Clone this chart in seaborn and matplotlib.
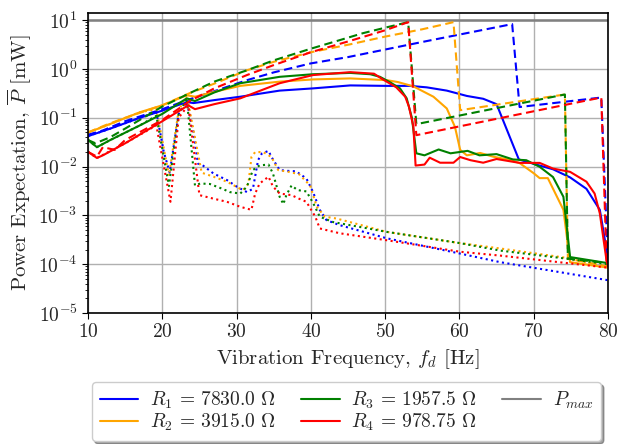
import numpy as np
import pandas as pd
import matplotlib
matplotlib.use("Agg")
import matplotlib.pyplot as plt
from matplotlib.lines import Line2D
import seaborn as sns

# Load resistances and their legend labels
resistors = ["R1", "R2", "R3", "R4"]
labels = [r"$R_1\,=\,7830.0\ \Omega$", r"$R_2\,=\,3915.0\ \Omega$",
          r"$R_3\,=\,1957.5\ \Omega$", r"$R_4\,=\,978.75\ \Omega$"]
colors = ["blue", "orange", "green", "red"]
p_max = 10.0

# Mean power expectation (solid)
f_mean_r1 = [10, 13, 17, 20, 23.3, 24.2, 27, 30.5, 35.8, 40.3, 45.3, 50.2, 53.3, 55.6,
             58.3, 61, 63.2, 65, 68, 70.8, 72.6, 74.9, 77.1, 78.9, 79.8, 80]
p_mean_r1 = [0.042, 0.06, 0.1, 0.14, 0.21, 0.2, 0.23, 0.27, 0.36, 0.40, 0.46, 0.45, 0.45, 0.42,
             0.36, 0.28, 0.245, 0.19, 0.014, 0.0105, 0.0088, 0.006, 0.0035, 0.0013, 2e-4, 1e-4]
f_mean_r2 = [10, 12, 17, 20, 23.3, 24.4, 27, 30.5, 35.8, 40.3, 45.3, 50.2, 51.7, 53.8, 56.5,
             58.3, 59.4, 60.1, 61, 62.8, 64.5, 66.8, 68.1, 70, 70.8, 71.9, 74, 74.9, 80]
p_mean_r2 = [0.05, 0.065, 0.13, 0.18, 0.29, 0.27, 0.34, 0.45, 0.55, 0.61, 0.64, 0.59, 0.54, 0.44, 0.27,
             0.155, 0.065, 0.022, 0.017, 0.019, 0.016, 0.0137, 0.0118, 0.0073, 0.0058, 0.0058, 0.0013,
             1.1e-4, 8.5e-5]
f_mean_r3 = [10, 11.2, 13, 17, 20, 23.3, 24.4, 27, 30.5, 35.8, 40.3, 45.3, 48, 49.3, 50.6, 52,
             52.9, 53.6, 54.2, 55.3, 57.2, 58.8, 61.1, 62.7, 65, 67.2, 69, 70.8, 72.6, 74, 74.9, 80]
p_mean_r3 = [0.035, 0.025, 0.035, 0.07, 0.12, 0.25, 0.22, 0.33, 0.51, 0.69, 0.78, 0.83, 0.78, 0.69,
             0.54, 0.40, 0.25, 0.10, 0.0187, 0.017, 0.0224, 0.0187, 0.021, 0.017, 0.018, 0.014,
             0.0135, 0.0099, 0.0061, 0.0024, 1.4e-4, 1.05e-4]
f_mean_r4 = [10, 11.2, 12, 15, 20, 23.5, 24.4, 27, 30.5, 35.8, 40.3, 45.3, 48.5, 49.7, 51.5, 52.7,
             53.2, 53.8, 54.1, 55.3, 56, 57.4, 59.2, 60.1, 61.5, 63.2, 65, 68.1, 70.8, 72.6, 74.9,
             77.1, 78.2, 78.9, 79.8, 80]
p_mean_r4 = [0.02, 0.015, 0.017, 0.03, 0.085, 0.18, 0.15, 0.19, 0.25, 0.51, 0.75, 0.86, 0.8, 0.61,
             0.42, 0.27, 0.17, 0.066, 0.0105, 0.011, 0.0152, 0.012, 0.012, 0.0157, 0.0135, 0.012,
             0.0143, 0.0119, 0.0119, 0.0091, 0.0078, 0.0049, 0.0028, 0.0011, 1.2e-4, 9e-5]

# Upper bound (dashed)
f_upper_r1 = [10, 12, 15, 20, 23.7, 27, 31.4, 35, 40, 45, 55.5, 67.1, 68.1, 79.1, 80]
p_upper_r1 = [0.045, 0.055, 0.085, 0.15, 0.24, 0.35, 0.59, 0.85, 1.3, 1.75, 3.7, 8.3, 0.166, 0.26, 1e-4]
f_upper_r2 = [10, 12.3, 15, 20, 23.7, 27, 31.4, 35, 40, 45.3, 50, 55, 59.2, 60.1, 74.2, 74.6, 80]
p_upper_r2 = [0.05, 0.07, 0.1, 0.18, 0.32, 0.5, 0.94, 1.4, 2.2, 3.2, 4.6, 6.5, 9.1, 0.143, 0.30,
              1.3e-4, 9e-5]
f_upper_r3 = [10, 11, 13, 15, 20, 23.7, 27, 31.4, 35, 40, 43.9, 47, 50, 53.1, 54.2, 74.2, 74.6, 80]
p_upper_r3 = [0.035, 0.03, 0.04, 0.06, 0.17, 0.32, 0.55, 0.94, 1.5, 2.6, 3.9, 5.4, 7.0, 9.1, 0.074,
              0.30, 1.3e-4, 1.05e-4]
f_upper_r4 = [10, 11.2, 12, 13.6, 15, 20, 23.7, 27, 31.4, 35, 40, 45.3, 50, 53.1, 54.2, 79.1, 79.8, 80]
p_upper_r4 = [0.02, 0.016, 0.025, 0.022, 0.035, 0.09, 0.22, 0.4, 0.75, 1.2, 2.2, 3.77, 6.2, 9.1, 0.044,
              0.26, 1.2e-4, 9e-5]

# Lower bound (dotted)
f_lower_r1 = [10, 13, 17, 19.2, 20.2, 21, 22.2, 23.3, 24.2, 24.8, 25.3, 26.9, 28.7, 30, 31.4, 32.2,
              32.9, 33.4, 34.3, 34.7, 35.8, 36.7, 38, 39.4, 40.3, 41.2, 42.1, 43.9, 50.2, 60.1, 65.5, 80]
p_lower_r1 = [0.042, 0.06, 0.1, 0.13, 0.02, 0.0075, 0.12, 0.21, 0.05, 0.0115, 0.011, 0.0072, 0.0053,
              0.0039, 0.003, 0.0035, 0.0136, 0.0185, 0.021, 0.0157, 0.0085, 0.0082, 0.008, 0.0057,
              0.003, 0.0013, 8e-4, 6.3e-4, 3.4e-4, 1.65e-4, 1.1e-4, 4.7e-5]
f_lower_r2 = [10, 12, 17, 19.2, 20.9, 22.2, 23.3, 25.3, 26.9, 28.7, 30.5, 30.9, 31.6, 32, 32.5,
              33.6, 34.7, 35.6, 37, 38.4, 39.9, 40.8, 41.9, 43.5, 50.2, 60.1, 65.5, 74.4, 80]
p_lower_r2 = [0.05, 0.065, 0.13, 0.15, 0.0065, 0.14, 0.29, 0.0075, 0.0062, 0.0049, 0.0035, 0.0033,
              0.0045, 0.0157, 0.0198, 0.0198, 0.0157, 0.0085, 0.0078, 0.007, 0.0041, 0.0015, 9.4e-4,
              8.6e-4, 4.6e-4, 2.7e-4, 2.1e-4, 1.35e-4, 8.6e-5]
f_lower_r3 = [10, 11.2, 13, 17, 19.2, 20.9, 22.2, 23.3, 24.4, 25.1, 26.4, 28.1, 29.1, 30.5, 31.4,
              32.2, 33.1, 34.3, 34.9, 35.8, 36.3, 36.7, 37.4, 38.2, 39.4, 40.3, 41.2, 43, 50.2,
              60.1, 65.5, 74.4, 80]
p_lower_r3 = [0.035, 0.025, 0.035, 0.07, 0.11, 0.004, 0.12, 0.25, 0.0041, 0.0045, 0.0044, 0.0035,
              0.003, 0.0028, 0.0039, 0.0085, 0.0106, 0.011, 0.0072, 0.0024, 0.0017, 0.0026, 0.0041,
              0.0033, 0.0031, 0.0018, 9.4e-4, 7.3e-4, 4.6e-4, 2.7e-4, 1.9e-4, 1.3e-4, 1.0e-4]
f_lower_r4 = [10, 11.2, 15, 19.2, 21.1, 22.2, 23.5, 25, 26.9, 28.7, 30.5, 32, 32.5, 33.1, 34.3,
              34.9, 35.8, 37.4, 38.4, 39.4, 40.6, 41.2, 42.1, 43.9, 50.2, 60.1, 65.5, 80]
p_lower_r4 = [0.02, 0.015, 0.03, 0.07, 0.0019, 0.1, 0.18, 0.0026, 0.0022, 0.0019, 0.0015, 0.0013,
              0.0028, 0.0045, 0.0062, 0.0039, 0.0028, 0.0026, 0.0022, 0.0019, 9.4e-4, 5.4e-4, 5e-4,
              4.3e-4, 3.1e-4, 1.8e-4, 1.5e-4, 8.5e-5]

series = {
    ("R1", "lower"): (f_lower_r1, p_lower_r1), ("R1", "upper"): (f_upper_r1, p_upper_r1),
    ("R1", "mean"): (f_mean_r1, p_mean_r1),
    ("R2", "lower"): (f_lower_r2, p_lower_r2), ("R2", "upper"): (f_upper_r2, p_upper_r2),
    ("R2", "mean"): (f_mean_r2, p_mean_r2),
    ("R3", "lower"): (f_lower_r3, p_lower_r3), ("R3", "upper"): (f_upper_r3, p_upper_r3),
    ("R3", "mean"): (f_mean_r3, p_mean_r3),
    ("R4", "lower"): (f_lower_r4, p_lower_r4), ("R4", "upper"): (f_upper_r4, p_upper_r4),
    ("R4", "mean"): (f_mean_r4, p_mean_r4),
}

rows = []
for (res, kind), (fs, ps) in series.items():
    for f, p in zip(fs, ps):
        rows.append({"freq": f, "power": p, "resistor": res, "kind": kind})
df = pd.DataFrame(rows)

sns.set_style("ticks", {"axes.grid": True, "grid.color": "#b0b0b0"})
plt.rcParams["font.family"] = "serif"
plt.rcParams["font.serif"] = ["cmr10", "DejaVu Serif"]
plt.rcParams["mathtext.fontset"] = "cm"
plt.rcParams["axes.formatter.use_mathtext"] = True
plt.rcParams["axes.unicode_minus"] = False

fig = plt.figure(figsize=(6.18, 4.44), dpi=100)
ax = fig.add_axes([0.1424, 0.295, 0.8414, 0.6757])

linestyles = {"mean": "-", "upper": (0, (4, 2.2)), "lower": ":"}
palette = dict(zip(resistors, colors))

for res in resistors:
    for kind in ["lower", "upper", "mean"]:
        sub = df[(df["resistor"] == res) & (df["kind"] == kind)]
        sns.lineplot(data=sub, x="freq", y="power", color=palette[res], linestyle=linestyles[kind],
                     linewidth=1.5, estimator=None, sort=False, ax=ax, legend=False)

ax.axhline(p_max, color="gray", linewidth=1.8, zorder=1)

ax.set_yscale("log")
ax.set_xlim(10, 80)
ax.set_ylim(1e-5, 14)
ax.set_xticks(np.arange(10, 81, 10))
ax.grid(True, which="major", color="#b0b0b0", linewidth=1.0)
ax.grid(False, which="minor")
for s in ax.spines.values():
    s.set_color("black")
    s.set_linewidth(1.2)
ax.tick_params(axis="both", which="major", labelsize=14, length=4, color="black")
ax.tick_params(axis="y", which="minor", length=2, color="black")

ax.set_xlabel(r"Vibration Frequency, $f_d$ [Hz]", fontsize=15)
ax.set_ylabel(r"Power Expectation, $\overline{P}$ [mW]", fontsize=15)

handles = [Line2D([], [], color=c, linewidth=1.5) for c in colors]
handles.append(Line2D([], [], color="gray", linewidth=1.5))
leg_labels = labels + [r"$P_{max}$"]
ax.legend(handles, leg_labels, loc="upper center", bbox_to_anchor=(0.497, -0.23), ncol=3,
          fontsize=14, frameon=True, shadow=True, framealpha=1, edgecolor="#cccccc",
          columnspacing=1.3, handlelength=2.0, handletextpad=0.6, labelspacing=0.04,
          borderpad=0.4, borderaxespad=0)

fig.savefig("out.png", dpi=100)
